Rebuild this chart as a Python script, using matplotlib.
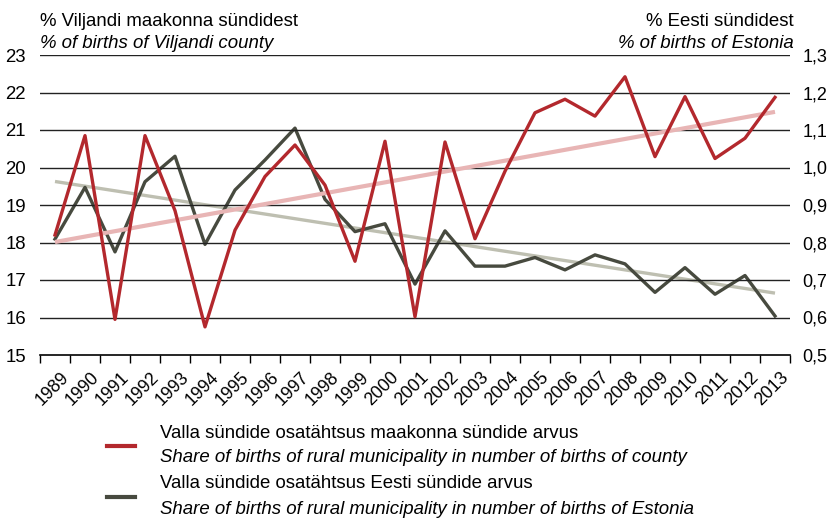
import matplotlib
matplotlib.use("Agg")
import matplotlib.pyplot as plt
import matplotlib.transforms as mtransforms
from matplotlib.lines import Line2D
import numpy as np

plt.rcParams['font.family'] = ['Liberation Sans', 'DejaVu Sans']

years = list(range(1989, 2014))
county_share = [18.2, 20.85, 15.95, 20.85, 18.85, 15.75, 18.33, 19.76, 20.6, 19.53,
                17.5, 20.7, 16.02, 20.68, 18.1, 19.9, 21.46, 21.82, 21.37, 22.42,
                20.29, 21.89, 20.24, 20.78, 21.87]
estonia_share = [0.809, 0.947, 0.775, 0.962, 1.03, 0.795, 0.94, 1.02, 1.105, 0.915,
                 0.829, 0.850, 0.689, 0.831, 0.737, 0.737, 0.760, 0.727, 0.767, 0.743,
                 0.667, 0.733, 0.662, 0.712, 0.604]

left_ticks = [15, 16, 17, 18, 19, 20, 21, 22, 23]
right_ticks = [0.5, 0.6, 0.7, 0.8, 0.9, 1.0, 1.1, 1.2, 1.3]
right_labels = ['0,5', '0,6', '0,7', '0,8', '0,9', '1,0', '1,1', '1,2', '1,3']

left_title = ['% Viljandi maakonna sündidest', '% of births of Viljandi county']
right_title = ['% Eesti sündidest', '% of births of Estonia']
legend_texts = [('Valla sündide osatähtsus maakonna sündide arvus',
                 'Share of births of rural municipality in number of births of county'),
                ('Valla sündide osatähtsus Eesti sündide arvus',
                 'Share of births of rural municipality in number of births of Estonia')]

RED = '#B3282D'
DARK = '#474A3F'
RED_TREND = '#E8B5B5'
GRAY_TREND = '#BEBFB1'
FS = 13.4

W, H = 828, 518
fig = plt.figure(figsize=(W / 100, H / 100), dpi=100)
ax = fig.add_axes([40 / W, 1 - 355 / H, 750 / W, 300 / H])
ax2 = ax.twinx()

x = np.arange(len(years))
ax.set_xlim(-0.5, len(years) - 0.5)
ax.set_ylim(15, 23)
ax2.set_ylim(0.5, 1.3)

for v in left_ticks[1:]:
    ax.axhline(v, color='#222222', lw=1.0, zorder=1)

# linear trend lines
c1 = np.polyfit(x, county_share, 1)
c2 = np.polyfit(x, estonia_share, 1)
ax.plot(x, np.polyval(c1, x), color=RED_TREND, lw=3.0, solid_capstyle='butt', zorder=2)
ax2.plot(x, np.polyval(c2, x), color=GRAY_TREND, lw=2.4, solid_capstyle='butt', zorder=2)

ax.plot(x, county_share, color=RED, lw=2.4, zorder=3)
ax2.plot(x, estonia_share, color=DARK, lw=2.4, zorder=3)
ax.set_zorder(ax2.get_zorder() + 1)
ax.patch.set_visible(False)

for a in (ax, ax2):
    for s in ('left', 'right', 'top'):
        a.spines[s].set_visible(False)
ax.spines['bottom'].set_color('black')
ax.spines['bottom'].set_linewidth(1.2)
ax2.spines['bottom'].set_visible(False)

ax.set_yticks(left_ticks)
ax.set_yticklabels([str(v) for v in left_ticks], fontsize=FS)
ax.tick_params(axis='y', length=0, pad=10)
ax2.set_yticks(right_ticks)
ax2.set_yticklabels(right_labels, fontsize=13)
ax2.tick_params(axis='y', length=0, pad=9)

ax.set_xticks(np.arange(len(years) + 1) - 0.5)
ax.set_xticklabels([])
ax.tick_params(axis='x', which='major', length=6, width=1, direction='out', color='black')
ax.set_xticks(x, minor=True)
ax.set_xticklabels([str(y) for y in years], minor=True, rotation=45, ha='right',
                   va='top', rotation_mode='anchor', fontsize=12.8)
ax.tick_params(axis='x', which='minor', length=0, pad=10)
offset = mtransforms.ScaledTranslation(5 / 100, 0, fig.dpi_scale_trans)
for lab in ax.get_xticklabels(minor=True):
    lab.set_transform(lab.get_transform() + offset)

fig.text(40 / W, 1 - 26 / H, left_title[0], fontsize=FS, va='baseline', ha='left')
fig.text(40 / W, 1 - 48 / H, left_title[1], fontsize=FS, va='baseline', ha='left', style='italic')
fig.text(794 / W, 1 - 26 / H, right_title[0], fontsize=FS, va='baseline', ha='right')
fig.text(794 / W, 1 - 48 / H, right_title[1], fontsize=FS, va='baseline', ha='right', style='italic')

for (t1, t2), col, ly, b1, b2 in zip(legend_texts, [RED, DARK], [446, 497],
                                     [437.5, 488.5], [462.5, 513.5]):
    fig.add_artist(Line2D([107 / W, 135 / W], [1 - ly / H] * 2, color=col, lw=3.0,
                          transform=fig.transFigure))
    fig.text(160 / W, 1 - b1 / H, t1, fontsize=FS, va='baseline', ha='left')
    fig.text(160 / W, 1 - b2 / H, t2, fontsize=FS, va='baseline', ha='left', style='italic')

fig.savefig('out.png', dpi=100)
